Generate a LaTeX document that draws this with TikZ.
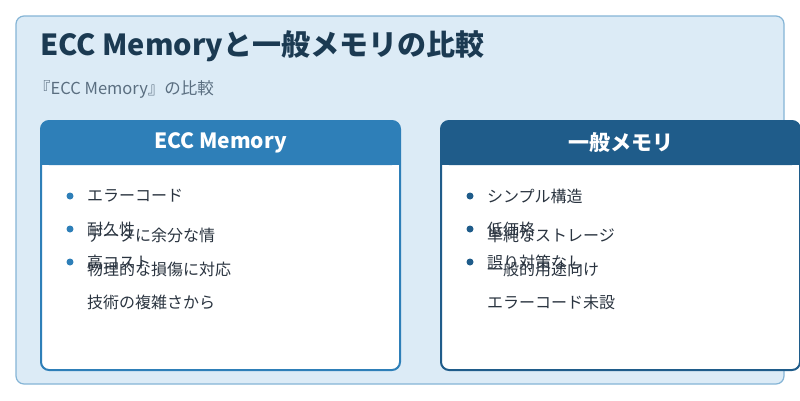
\documentclass[tikz,border=0pt]{standalone}
\usepackage{fontspec}
\setmainfont{Noto Sans CJK JP}
\usetikzlibrary{positioning}
\definecolor{bgblue}{HTML}{DCEBF6}
\definecolor{frameblue}{HTML}{85B5D6}
\definecolor{titlecol}{HTML}{1B3A52}
\definecolor{subcol}{HTML}{5A6E80}
\definecolor{eccblue}{HTML}{2E7FB8}
\definecolor{gendark}{HTML}{1F5C8A}
\definecolor{textcol}{HTML}{2A3440}

\tikzset{
  item/.style={anchor=west,font=\fontsize{16}{16}\selectfont,text=textcol,inner sep=0pt},
  dot/.style={circle,fill=#1,inner sep=0pt,minimum size=7pt},
  head/.style={font=\bfseries\fontsize{21}{21}\selectfont,text=white}
}

\begin{document}
\begin{tikzpicture}[x=1pt,y=-1pt]
  \useasboundingbox (0,0) rectangle (800,400);
  \fill[white] (0,0) rectangle (800,400);
  \draw[frameblue,fill=bgblue,line width=1.2pt,rounded corners=8pt] (16,16) rectangle (784,384);

  \node[anchor=west,font=\bfseries\fontsize{29}{29}\selectfont,text=titlecol,inner sep=0pt] (title) at (40,46) {ECC Memoryと一般メモリの比較};
  \node[anchor=west,font=\fontsize{16.5}{16.5}\selectfont,text=subcol,inner sep=0pt] (sub) at (34,89) {『ECC Memory』の比較};

  % ECC card
  \draw[eccblue,fill=white,line width=2pt,rounded corners=8pt] (41,121) rectangle (400,370);
  \fill[eccblue,rounded corners=8pt] (41,121) rectangle (400,165);
  \fill[eccblue] (41,145) rectangle (400,165);
  \node[head] (ecchead) at (220.5,143) {ECC Memory};
  \foreach \y in {196,229,262} \node[dot=eccblue] at (70,\y) {};
  \node[item] (e1) at (87,196) {エラーコード};
  \node[item] (e2) at (87,229) {耐久性};
  \node[item] (e3) at (87,262) {高コスト};
  \node[item] (e4) at (87,235) {データに余分な情};
  \node[item] (e5) at (87,269) {物理的な損傷に対応};
  \node[item] (e6) at (87,302) {技術の複雑さから};

  % general card
  \draw[gendark,fill=white,line width=2pt,rounded corners=8pt] (441,121) rectangle (800,370);
  \fill[gendark,rounded corners=8pt] (441,121) rectangle (800,165);
  \fill[gendark] (441,145) rectangle (800,165);
  \node[head] (genhead) at (620.5,143) {一般メモリ};
  \foreach \y in {196,229,262} \node[dot=gendark] at (470,\y) {};
  \node[item] (g1) at (487,196) {シンプル構造};
  \node[item] (g2) at (487,229) {低価格};
  \node[item] (g3) at (487,262) {誤り対策なし};
  \node[item] (g4) at (487,235) {単純なストレージ};
  \node[item] (g5) at (487,269) {一般的用途向け};
  \node[item] (g6) at (487,302) {エラーコード未設};
\end{tikzpicture}
\end{document}
